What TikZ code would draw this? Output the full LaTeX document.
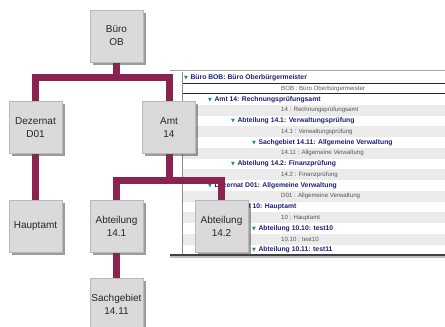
\documentclass[tikz,border=0pt]{standalone}
\usepackage{fontspec}
\setmainfont{Liberation Sans}
\newfontfamily\symfont{DejaVu Sans}
\usetikzlibrary{shadows}
\definecolor{conncol}{HTML}{8B2350}
\definecolor{boxfill}{HTML}{DADADA}
\definecolor{navy}{HTML}{1E1E7A}
\definecolor{tealtri}{HTML}{1E8C7E}
\definecolor{rowgray}{HTML}{EBEBEB}
\definecolor{detailgray}{HTML}{555555}
\pgfdeclarelayer{panel}
\pgfdeclarelayer{conn}
\pgfsetlayers{panel,conn,main}
\newcommand\mytri{{\color{tealtri}\symfont\fontsize{5}{5}\selectfont ▼}\hspace{2.5pt}}
\tikzset{
  orgbox/.style={draw=gray!55, line width=0.4pt, fill=boxfill, minimum width=53pt, minimum height=52pt,
    inner sep=1pt, align=center, font=\fontsize{10}{13}\selectfont, text=black!85,
    drop shadow={shadow xshift=2.5pt, shadow yshift=-2.5pt, opacity=0.55, fill=black!70}},
  conn/.style={draw=conncol, line width=7pt, line join=miter},
  hdr/.style={anchor=west, inner sep=0pt, font=\fontsize{6.8}{7}\bfseries\selectfont, text=navy},
  det/.style={anchor=west, inner sep=0pt, font=\fontsize{6.1}{6.5}\selectfont, text=detailgray},
  stripe/.style={fill=rowgray, draw=none},
}
\begin{document}
\begin{tikzpicture}[x=1pt, y=-1pt]
\useasboundingbox (0,0) rectangle (445,327);
% ---------- panel ----------
\begin{pgfonlayer}{panel}
\fill[white] (0,0) rectangle (445,327);
\begin{scope}
\clip (182,72) rectangle (445,254);
\foreach \yy in {110.25,131.75,153.25,174.75,196.25,217.75,239.25}
  \fill[stripe] (182,\yy-5.375) rectangle (445,\yy+5.375);
\draw[black!85, line width=0.9pt, fill=white] (182.5,83.5) rectangle (447,93.5);
\node[hdr] (r0) at (184,78) {\mytri Büro BOB: Büro Oberbürgermeister};
\node[det] (r1) at (281,88.75) {BOB : Büro Oberbürgermeister};
\node[hdr] (r2) at (208,99.5) {\mytri Amt 14: Rechnungsprüfungsamt};
\node[det] (r3) at (281,110.25) {14 : Rechnungsprüfungsamt};
\node[hdr] (r4) at (231,121) {\mytri Abteilung 14.1: Verwaltungsprüfung};
\node[det] (r5) at (281,131.75) {14.1 : Verwaltungsprüfung};
\node[hdr] (r6) at (252,142.5) {\mytri Sachgebiet 14.11: Allgemeine Verwaltung};
\node[det] (r7) at (281,153.25) {14.11 : Allgemeine Verwaltung};
\node[hdr] (r8) at (231,164) {\mytri Abteilung 14.2: Finanzprüfung};
\node[det] (r9) at (281,174.75) {14.2 : Finanzprüfung};
\node[hdr] (r10) at (208,185.5) {\mytri Dezernat D01: Allgemeine Verwaltung};
\node[det] (r11) at (281,196.25) {D01 : Allgemeine Verwaltung};
\node[hdr] (r12) at (231,207) {\mytri Amt 10: Hauptamt};
\node[det] (r13) at (281,217.75) {10 : Hauptamt};
\node[hdr] (r14) at (252,228.5) {\mytri Abteilung 10.10: test10};
\node[det] (r15) at (281,239.25) {10.10 : test10};
\node[hdr] (r16) at (252,250) {\mytri Abteilung 10.11: test11};
\end{scope}
\draw[black!35, line width=1.8pt] (170,70.5) -- (445,70.5);
\draw[black!45, line width=0.7pt] (182,72) -- (182,254);
\draw[black!25, line width=2.5pt] (170,257) -- (445,257);
\draw[black!75, line width=1.4pt] (170,255) -- (445,255);
\end{pgfonlayer}
% ---------- org chart boxes ----------
\node[orgbox] (buero) at (116.5,36) {Büro\\OB};
\node[orgbox] (dez) at (35.5,127.5) {Dezernat\\D01};
\node[orgbox] (amt) at (169,127.5) {Amt\\14};
\node[orgbox] (haupt) at (35.5,226) {Hauptamt};
\node[orgbox] (a141) at (116.5,226) {Abteilung\\14.1};
\node[orgbox] (a142) at (221.5,226) {Abteilung\\14.2};
\node[orgbox] (sach) at (116.5,304) {Sachgebiet\\14.11};
% ---------- connectors ----------
\begin{pgfonlayer}{conn}
\coordinate (j1) at (buero.south |- 0,77);
\coordinate (j2) at (amt.south |- 0,180);
\draw[conn] (buero.south) -- (j1);
\draw[conn] (dez.north) |- (j1) -| (amt.north);
\draw[conn] (amt.south) -- (j2);
\draw[conn] (a141.north) |- (j2) -| (a142.north);
\draw[conn] (dez.south) -- (haupt.north);
\draw[conn] (a141.south) -- (sach.north);
\end{pgfonlayer}
\end{tikzpicture}
\end{document}
